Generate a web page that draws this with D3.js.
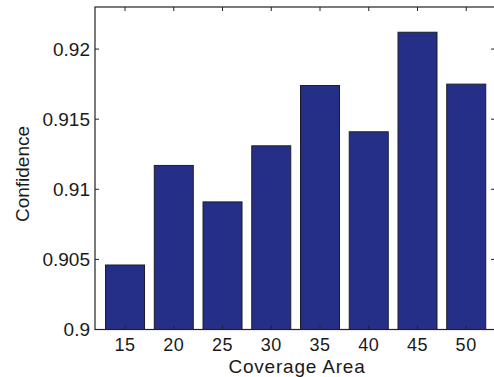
<!DOCTYPE html>
<html>
<head>
<meta charset="utf-8">
<script src="https://cdn.jsdelivr.net/npm/d3@7"></script>
<style>
  body { margin: 0; background: #fff; }
  text { font-family: "Liberation Sans", Arial, sans-serif; fill: #1a1a1a; }
</style>
</head>
<body>
<div id="chart"></div>
<script>
// coverage area categories and confidence values
const areas = [15, 20, 25, 30, 35, 40, 45, 50];
const confidence = [0.9046, 0.9117, 0.9091, 0.9131, 0.9174, 0.9141, 0.9212, 0.9175];
const yTicks = [0.9, 0.905, 0.91, 0.915, 0.92];

const width = 494, height = 377;
const margin = { top: 7, right: -1, bottom: 47, left: 95 };

const svg = d3.select("#chart").append("svg")
  .attr("width", width)
  .attr("height", height);

const x = d3.scaleLinear()
  .domain([11.92, 52.95])
  .range([margin.left, width - margin.right]);

const y = d3.scaleLinear()
  .domain([0.9, 0.923])
  .range([height - margin.bottom - 0.5, margin.top]);

const step = x(20) - x(15);
const barW = step * 0.8;

// bars
svg.selectAll(".bar")
  .data(areas)
  .enter().append("rect")
  .attr("class", "bar")
  .attr("x", (d) => x(d) - barW / 2)
  .attr("y", (d, i) => y(confidence[i]))
  .attr("width", barW)
  .attr("height", (d, i) => y(0.9) - y(confidence[i]))
  .attr("fill", "#262f87")
  .attr("stroke", "#1c1c2a")
  .attr("stroke-width", 1);

// box: left / bottom axes with ticks, plus mirrored top / right
const x0 = x.range()[0], x1 = x.range()[1];
const y0 = y.range()[0], y1 = y.range()[1];

const g = svg.append("g").attr("stroke", "#222").attr("fill", "none");
g.append("rect")
  .attr("x", x0).attr("y", y1)
  .attr("width", x1 - x0).attr("height", y0 - y1)
  .attr("stroke-width", 1.2);

// tick marks (inward), on all four sides
g.selectAll(".yt").data(yTicks).enter().append("path")
  .attr("d", (d) => `M${x0},${y(d)}h4M${x1},${y(d)}h-4`);
g.selectAll(".xt").data(areas).enter().append("path")
  .attr("d", (d) => `M${x(d)},${y0}v-4M${x(d)},${y1}v4`);

// y tick labels
svg.selectAll(".ylab").data(yTicks).enter().append("text")
  .attr("x", x0 - 5)
  .attr("y", (d) => y(d))
  .attr("dy", "0.36em")
  .attr("text-anchor", "end")
  .style("font-size", "19px")
  .text((d) => d3.format("")(d));

// x tick labels
svg.selectAll(".xlab").data(areas).enter().append("text")
  .attr("x", (d) => x(d))
  .attr("y", 351)
  .attr("text-anchor", "middle")
  .style("font-size", "18px")
  .style("letter-spacing", "0.6px")
  .text((d) => d);

// axis titles
svg.append("text")
  .attr("x", 297)
  .attr("y", 373)
  .attr("text-anchor", "middle")
  .style("font-size", "19px")
  .style("letter-spacing", "0.8px")
  .text("Coverage Area");

svg.append("text")
  .attr("transform", `translate(29,174) rotate(-90)`)
  .attr("text-anchor", "middle")
  .style("font-size", "19px")
  .text("Confidence");
</script>
</body>
</html>
